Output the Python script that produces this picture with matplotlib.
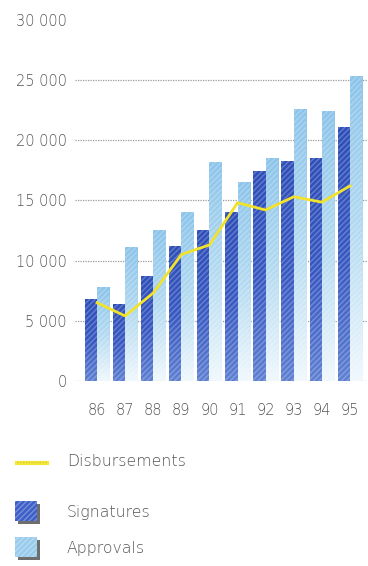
import numpy as np
import matplotlib.pyplot as plt
from matplotlib.patches import Rectangle
from matplotlib.colors import LinearSegmentedColormap

years = ["86", "87", "88", "89", "90", "91", "92", "93", "94", "95"]
signatures = [6800, 6400, 8700, 11200, 12500, 14000, 17400, 18300, 18550, 21100]
approvals = [7800, 11100, 12500, 14000, 18200, 16550, 18500, 22550, 22450, 25300]
disbursements = [6500, 5400, 7300, 10500, 11300, 14800, 14200, 15300, 14850, 16200]
y_ticks = [0, 5000, 10000, 15000, 20000, 25000, 30000]
y_labels = ["0", "5 000", "10 000", "15 000", "20 000", "25 000", "30 000"]

text_col = "#555555"
font = dict(fontsize=10.5, color=text_col, fontweight="light")
leg_font = dict(fontsize=11.3, color=text_col, fontweight="light")
fig = plt.figure(figsize=(3.68, 5.66), dpi=100)
ax = fig.add_axes([0.204, 0.327, 0.796, 0.638])

x = np.arange(len(years))
w = 0.44

# gradient fills, darker at the top
sig_cmap = LinearSegmentedColormap.from_list("sig", ["#5f80d2", "#3858c2", "#2f4fb8"])
app_cmap = LinearSegmentedColormap.from_list("app", ["#f0f8fd", "#b3daf1", "#8cc4ea"])
grad = np.linspace(0, 1, 256).reshape(-1, 1)

for yv in y_ticks[:-1]:
    ax.axhline(yv, color="#9a9a9a", lw=0.9, ls=(0, (1, 1)), zorder=1)

sig_bars = ax.bar(x - w / 2, signatures, w, color="none", edgecolor="none", zorder=2)
app_bars = ax.bar(x + w / 2, approvals, w, color="none", edgecolor="none", zorder=2)

for bars, cmap in ((sig_bars, sig_cmap), (app_bars, app_cmap)):
    for b in bars:
        bx, by = b.get_x(), b.get_y()
        bw, bh = b.get_width(), b.get_height()
        im = ax.imshow(grad, cmap=cmap, aspect="auto", origin="lower",
                       extent=(bx, bx + bw, by, by + bh), zorder=2)
        im.set_clip_path(b)
        ax.add_patch(Rectangle((bx, by), bw, bh, facecolor="none",
                               edgecolor="white", hatch="//////", lw=0, alpha=0.25, zorder=3))

ax.plot(x, disbursements, color="#f2e229", lw=2.0, zorder=4)

ax.set_xlim(-0.78, 9.64)
ax.set_ylim(0, 30000)
ax.set_yticks(y_ticks)
ax.set_yticklabels(y_labels, **font)
ax.set_xticks(x)
ax.set_xticklabels(years, **font)
ax.tick_params(length=0)
ax.tick_params(axis="y", pad=6)
ax.tick_params(axis="x", pad=16)
for s in ax.spines.values():
    s.set_visible(False)

# legend drawn by hand in pixel coordinates of the figure
leg = fig.add_axes([0, 0, 1, 1], zorder=-1)
leg.set_xlim(0, 368)
leg.set_ylim(566, 0)
leg.axis("off")
leg.plot([17, 47], [463, 463], color="#f5e832", lw=3)
leg.plot([17, 47], [461.5, 461.5], color="#d9c84a", lw=1, ls=(0, (1, 1)))
leg.text(67, 462, "Disbursements", va="center", **leg_font)
for yy, fc, name in ((512, "#3d5fc8", "Signatures"), (548, "#98cbec", "Approvals")):
    leg.add_patch(Rectangle((18, yy - 8), 22, 20, facecolor="#6e6e6e", edgecolor="none"))
    leg.add_patch(Rectangle((15, yy - 11), 22, 20, facecolor=fc, edgecolor="none"))
    leg.add_patch(Rectangle((15, yy - 11), 22, 20, facecolor="none", edgecolor="white",
                            hatch="//////", lw=0, alpha=0.3))
    leg.text(67, yy, name, va="center", **leg_font)

fig.savefig("out.png", dpi=100)
